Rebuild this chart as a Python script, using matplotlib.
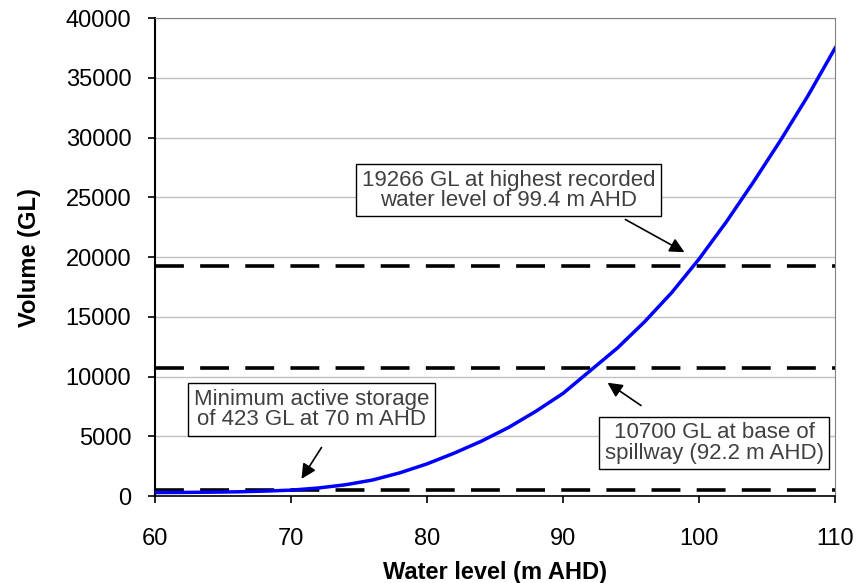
import matplotlib.pyplot as plt

plt.rcParams['font.family'] = ['Liberation Sans', 'DejaVu Sans']

# storage curve
level = [60, 62, 64, 66, 68, 70, 72, 74, 76, 78, 80, 82, 84, 86, 88, 90,
         92, 94, 96, 98, 100, 102, 104, 106, 108, 110]
volume = [300, 310, 330, 360, 420, 500, 680, 950, 1350, 1950, 2700, 3600, 4600, 5750, 7100, 8600,
          10500, 12400, 14600, 17050, 19850, 22950, 26300, 29800, 33500, 37500]

# reference storage levels (GL)
ref_levels = [550, 10700, 19266]

fig, ax = plt.subplots(figsize=(8.61, 5.83), dpi=100)
fig.subplots_adjust(left=0.18, right=0.97, top=0.969, bottom=0.149)

ax.set_axisbelow(True)
ax.grid(axis='y', color='#c0c0c0', linewidth=1)

for v in ref_levels:
    ax.plot([60, 110], [v, v], color='black', linewidth=2.6, dashes=(8, 4.5))

ax.plot(level, volume, color='#0000ff', linewidth=2.5, zorder=3)

ax.set_xlim(60, 110)
ax.set_ylim(0, 40000)
ax.set_xticks(range(60, 111, 10))
ax.set_yticks(range(0, 40001, 5000))
ax.tick_params(labelsize=17, direction='out', length=5, width=1.2)
ax.tick_params(axis='x', pad=18)
ax.tick_params(axis='y', pad=12)
ax.set_xlabel('Water level (m AHD)', fontsize=17, fontweight='bold', labelpad=8)
ax.set_ylabel('Volume (GL)', fontsize=17, fontweight='bold', labelpad=18)

ax.spines['top'].set_color('#808080')
ax.spines['right'].set_color('#808080')
ax.spines['left'].set_linewidth(1.5)
ax.spines['bottom'].set_linewidth(1.2)

box = dict(boxstyle='square,pad=0.25', facecolor='white', edgecolor='black', linewidth=1)
tcol = '#404040'
ax.text(86.0, 25600, '19266 GL at highest recorded\nwater level of 99.4 m AHD', fontsize=16,
        color=tcol, ha='center', va='center', bbox=box, linespacing=0.95)
ax.text(71.5, 7250, 'Minimum active storage\nof 423 GL at 70 m AHD', fontsize=16,
        color=tcol, ha='center', va='center', bbox=box, linespacing=0.95)
ax.text(101.1, 4450, '10700 GL at base of\nspillway (92.2 m AHD)', fontsize=16,
        color=tcol, ha='center', va='center', bbox=box, linespacing=0.95)

arrow = dict(arrowstyle='-|>', color='black', linewidth=1.2, mutation_scale=22)
ax.annotate('', xy=(99.1, 20300), xytext=(94.4, 23260), arrowprops=arrow)
ax.annotate('', xy=(70.66, 1250), xytext=(72.35, 4270), arrowprops=arrow)
ax.annotate('', xy=(93.1, 9620), xytext=(95.9, 7450), arrowprops=arrow)

fig.savefig('out.png', dpi=100)
